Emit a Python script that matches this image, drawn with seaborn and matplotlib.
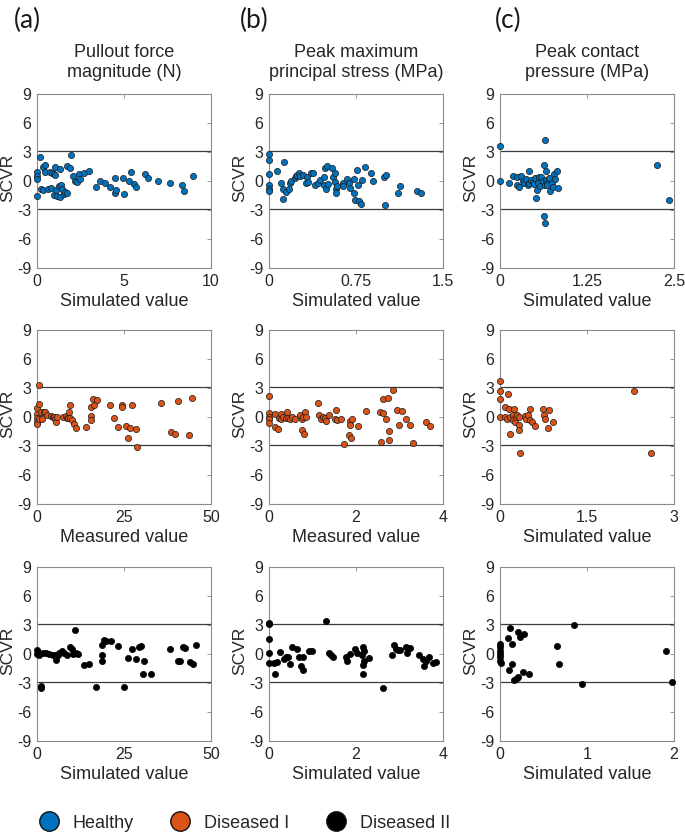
import matplotlib

matplotlib.use("Agg")
import matplotlib.pyplot as plt
from matplotlib.lines import Line2D
import seaborn as sns

sns.set_theme(style="white")
plt.rcParams["font.family"] = ["Liberation Sans", "DejaVu Sans"]

# ---- data (x = value, y = SCVR) ----
# row 1: healthy
pullout_healthy_x = [0, 0, 0, 0, 0.15, 0.23, 0.33, 0.34, 0.44, 0.48, 0.63, 0.73, 0.8, 0.86, 0.96, 1.03,
                     1.02, 0.96, 1.07, 1.15, 1.25, 1.3, 1.35, 1.4, 1.46, 1.53, 1.63, 1.72, 1.72, 1.88,
                     1.97, 2.05, 2.2, 2.3, 2.39, 2.49, 2.68, 2.97, 3.37, 3.6, 3.93, 4.2, 4.46, 4.5,
                     4.56, 4.94, 5.0, 5.27, 5.4, 5.55, 5.67, 6.2, 6.4, 6.93, 7.66, 8.35, 8.45, 8.97]
pullout_healthy_y = [0.94, 0.5, 0.17, -1.6, 2.5, -0.87, -0.94, 1.42, 1.67, 0.94, -0.8, 0.94, -0.7, 0.87, 0.7, 1.42,
                     0.6, -1.5, -0.94, -1.56, -0.5, 1.28, -1.67, -0.4, -0.87, -1.39, -1.15, -1.2, 1.56, 1.39,
                     2.67, 0.52, 0.03, -0.07, 0.7, 0.24, 0.87, 1.0, -0.6, -0.03, -0.2, -0.6, 0.35, -1.28,
                     -0.97, 0.3, -1.35, 0.03, 0.97, -0.3, -0.6, 0.73, 0.3, -0.03, -0.24, -0.4, -1.04, 0.52]

stress_healthy_x = [0, 0, 0, 0, 0, 0, 0.072, 0.1, 0.13, 0.12, 0.12, 0.15, 0.17, 0.18, 0.19, 0.22, 0.23,
                    0.24, 0.26, 0.27, 0.29, 0.32, 0.33, 0.34, 0.36, 0.38, 0.4, 0.42, 0.44, 0.47, 0.47,
                    0.48, 0.49, 0.5, 0.51, 0.54, 0.55, 0.57, 0.57, 0.58, 0.58, 0.59, 0.64, 0.64, 0.67,
                    0.69, 0.7, 0.73, 0.73, 0.74, 0.76, 0.77, 0.78, 0.79, 0.8, 0.83, 0.88, 0.9, 0.99,
                    1.01, 1.0, 1.11, 1.13, 1.28, 1.31]
stress_healthy_y = [2.78, 2.19, 0.7, -0.38, -0.87, -1.08, 1.0, -0.17, 1.94, -0.87, -1.84, -1.15, -0.87, -0.17, 0, 0.35, 0.52,
                    0.66, 0.8, 0.52, 0.6, -0.2, 0.45, -0.07, 0.8, 0.8, -0.45, -0.17, 0.07, 0.42, -0.45,
                    1.32, -0.8, 1.53, -0.28, 1.35, 0.42, 0.8, -0.1, -0.8, -1.22, -0.52, -0.24, -0.52, 0.17,
                    -0.24, -0.7, 0.17, -1.28, -2.0, 1.15, -0.45, -2.08, -2.43, 0.1, 1.42, 0.87, -0.03, 0.38,
                    0.6, -2.47, -1.25, -0.49, -1.0, -1.28]

contact_healthy_x = [0, 0, 0.135, 0.18, 0.24, 0.25, 0.28, 0.3, 0.33, 0.35, 0.38, 0.4, 0.41, 0.42, 0.44,
                     0.47, 0.49, 0.51, 0.52, 0.53, 0.54, 0.56, 0.57, 0.59, 0.62, 0.63, 0.63, 0.64, 0.65,
                     0.65, 0.66, 0.66, 0.68, 0.68, 0.7, 0.72, 0.74, 0.76, 0.77, 0.79, 0.82, 0.83, 2.26, 2.43]
contact_healthy_y = [3.58, 0.03, -0.17, 0.52, 0.42, -0.38, -0.6, 0.52, 0, -0.17, 0.24, -0.45, 1.0, -0.17, 0.1,
                     -0.07, -0.3, 0.3, -1.77, -0.94, -0.17, 0.45, -0.52, 0.45, 0.03, 1.7, -3.65, -0.38, 4.27,
                     -4.34, 0.1, 1.0, -0.17, -0.45, 0.35, -1.0, -0.24, -0.66, 0.73, 0.24, 1.0, -0.73, 1.7, -2.0]

# row 2: diseased I
pullout_d1_x = [0, 0, 0, 0, 0, 0.67, 0.6, 0.67, 1.15, 1.34, 1.9, 2.3, 2.9, 4.0, 4.5, 5.0, 5.2, 5.4, 5.75,
                7.5, 8.3, 8.6, 8.8, 9.1, 9.6, 9.6, 10.0, 10.5, 11.1, 14.1, 15.5, 15.5, 15.5, 16.3, 16.2,
                17.3, 20.9, 22.0, 23.2, 24.3, 24.5, 25.7, 26.2, 26.6, 27.4, 28.4, 28.7, 35.6, 38.5,
                39.7, 40.4, 43.7, 44.6]
pullout_d1_y = [0.97, 0.28, -0.14, -0.48, -0.69, 3.3, 1.38, -0.2, 0.48, -0.2, 0.48, 0.55, 0.24, 0.07, -0.03, 0, -0.2, -0.55, 0,
                -0.03, 0.07, -0.07, -0.07, 0.48, 1.24, -0.14, -0.28, -0.69, -1.17, -1.03, 1.0, 0.07, -0.28, 1.24, 1.9,
                1.72, 1.28, -0.14, -1.03, 1.28, 1.0, -0.97, -2.2, -1.1, 1.24, -1.24, -3.07, 1.45, -1.52,
                -1.76, 1.66, -1.86, 1.93]

stress_d1_x = [0, 0, 0, 0, 0, 0.14, 0.14, 0.2, 0.23, 0.28, 0.28, 0.32, 0.38, 0.41, 0.44, 0.49, 0.53, 0.59,
               0.72, 0.75, 0.75, 0.78, 0.8, 0.82, 0.86, 1.12, 1.15, 1.2, 1.24, 1.29, 1.32, 1.38, 1.52,
               1.55, 1.56, 1.66, 1.72, 1.87, 1.87, 1.85, 1.88, 1.9, 2.05, 2.22, 2.56, 2.57, 2.62, 2.63,
               2.7, 2.74, 2.77, 2.77, 2.84, 2.95, 2.99, 3.05, 3.16, 3.25, 3.31, 3.6, 3.71]
stress_d1_y = [2.17, 0.38, 0.03, -0.24, -0.66, 0.31, -1.07, -1.2, -0.07, 0.31, -0.2, 0, -0.14, 0.52, -0.1, -0.24, -0.03, -0.17,
               0.21, -0.24, -1.34, 0.03, -1.76, 0.52, -0.03, 1.48, 0.17, -0.24, 0.03, -0.14, -0.38, 0.21, -0.24,
               0.72, -0.34, -0.17, -2.76, -0.38, -0.79, -1.9, -2.17, -0.24, -0.93, 0.66, 0.52, -2.59, 0.45, 1.83,
               -0.24, 1.97, -1.48, -2.38, 2.79, 0.72, -0.86, 0.59, -0.17, -0.79, -2.66, -0.52, -0.93]

contact_d1_x = [0, 0, 0, 0, 0.085, 0.09, 0.14, 0.125, 0.15, 0.18, 0.18, 0.22, 0.23, 0.24, 0.26, 0.27, 0.3,
                0.32, 0.32, 0.33, 0.34, 0.43, 0.45, 0.49, 0.51, 0.52, 0.55, 0.61, 0.74, 0.76, 0.78, 0.82,
                0.85, 0.92, 2.31, 2.6]
contact_d1_y = [3.72, 2.72, 1.83, 0.03, 1.07, 0.03, 2.38, -0.17, 0.79, -0.03, -1.76, 0.17, -0.31, 0.79, -0.52, -0.03, 0.17,
                -0.86, -1.34, -0.03, -3.76, 0.1, -0.17, 0.24, 0.79, -0.31, -0.52, -0.93, 0.79, 0.17, -0.17, -1.14,
                0.72, -0.52, 2.66, -3.76]

# row 3: diseased II
pullout_d2_x = [0, 0, 0.2, 0.5, 1.1, 1.1, 1.6, 2.6, 3.5, 4.5, 5.2, 5.6, 6.0, 6.4, 7.1, 7.9, 8.5, 9.4, 10.0,
                10.3, 10.9, 11.3, 11.7, 13.6, 14.9, 17.0, 18.7, 18.7, 18.7, 19.3, 19.9, 21.2, 23.4, 25.1,
                26.1, 27.4, 28.4, 29.3, 29.9, 30.7, 30.5, 32.9, 38.3, 40.5, 41.0, 42.0, 42.4, 43.9, 44.8, 45.7]
pullout_d2_y = [0.44, 0, 0.2, -0.07, -3.33, -3.54, 0.1, 0.07, 0, -0.07, -0.14, -0.58, -0.07, 0.07, 0.27, 0.14, -0.07, 0.71, 0.51,
                0, 2.45, 0.07, 0, -1.09, -1.02, -3.4, 0.95, -0.14, -0.75, 1.5, 1.36, 1.36, 0.85, -3.4,
                -0.41, 0.48, -0.48, 0.68, 0.78, -0.68, -2.1, -2.1, 0.48, -0.68, -0.75, 0.68, 0.65, -0.82, -0.99, 0.95]

stress_d2_x = [0, 0, 0, 0, 0, 0.12, 0.14, 0.18, 0.26, 0.34, 0.38, 0.44, 0.49, 0.53, 0.64, 0.7, 0.73, 0.79,
               0.79, 0.93, 0.98, 1.3, 1.37, 1.42, 1.47, 1.76, 1.79, 1.86, 1.97, 2.03, 2.14, 2.15, 2.15,
               2.17, 2.18, 2.18, 2.29, 2.61, 2.82, 2.87, 2.92, 2.96, 3.01, 3.15, 3.18, 3.24, 3.44, 3.53,
               3.57, 3.6, 3.68, 3.76, 3.85]
stress_d2_y = [3.23, 3.06, 1.56, 0.07, -0.92, -0.88, -2.1, -0.82, 0.2, -0.54, -0.34, -0.34, -1.02, 0.75, 0.54, -0.27, -1.29, -1.7,
               -0.27, 0.34, 0.27, 3.4, 0.07, -0.14, -0.27, -0.27, -0.75, 0, 0.54, 0.14, -0.07, -1.16, -2.1,
               0.75, 0.27, -0.68, -0.41, -3.54, -0.07, 0.88, 0.54, 0.44, 0.37, 0.75, 0.07, 0.61, -0.07, -0.48,
               -1.22, -0.75, -0.27, -0.88, -0.82]

contact_d2_x = [0, 0, 0, 0, 0, 0, 0.01, 0.09, 0.1, 0.11, 0.14, 0.14, 0.16, 0.19, 0.21, 0.21, 0.23, 0.27,
                0.28, 0.33, 0.65, 0.68, 0.85, 0.94, 1.91, 1.98]
contact_d2_y = [1.02, 0.68, 0.34, 0, -0.34, -0.68, -0.92, 1.63, -1.63, 2.72, 1.02, -1.02, -2.69, -2.52, -2.38, 2.31, 1.77, -1.84,
                2.1, -2.04, 0.78, -1.02, 2.99, -3.06, 0.31, -2.89]

upper_limit = 3.1
lower_limit = -2.9

column_titles = ["Pullout force\nmagnitude (N)", "Peak maximum\nprincipal stress (MPa)", "Peak contact\npressure (MPa)"]
panel_letters = ["(a)", "(b)", "(c)"]
y_ticks = [-9, -6, -3, 0, 3, 6, 9]
x_ticks = [
    [[0, 5, 10], [0, 0.75, 1.5], [0, 1.25, 2.5]],
    [[0, 25, 50], [0, 2, 4], [0, 1.5, 3]],
    [[0, 25, 50], [0, 2, 4], [0, 1, 2]],
]
x_labels = [
    ["Simulated value", "Simulated value", "Simulated value"],
    ["Measured value", "Measured value", "Simulated value"],
    ["Simulated value", "Simulated value", "Simulated value"],
]
group_names = ["Healthy", "Diseased I", "Diseased II"]
group_colors = ["#0072BD", "#D95319", "#000000"]
group_edges = ["#1a1a1a", "#1a1a1a", "#000000"]

panels = [
    [(pullout_healthy_x, pullout_healthy_y), (stress_healthy_x, stress_healthy_y), (contact_healthy_x, contact_healthy_y)],
    [(pullout_d1_x, pullout_d1_y), (stress_d1_x, stress_d1_y), (contact_d1_x, contact_d1_y)],
    [(pullout_d2_x, pullout_d2_y), (stress_d2_x, stress_d2_y), (contact_d2_x, contact_d2_y)],
]

W, H = 685, 838
fig = plt.figure(figsize=(W / 100, H / 100), dpi=100)

col_left = [37, 269, 500]
row_top = [94, 330, 567]
size = 174
text_color = "#262626"


def fmt(v):
    return f"{v:g}"


for r in range(3):
    for c in range(3):
        ax = fig.add_axes([col_left[c] / W, 1 - (row_top[r] + size) / H, size / W, size / H])
        x, y = panels[r][c]
        ax.axhline(upper_limit, color="#3c3c3c", lw=0.9, zorder=1)
        ax.axhline(lower_limit, color="#3c3c3c", lw=0.9, zorder=1)
        sns.scatterplot(x=x, y=y, color=group_colors[r], edgecolor=group_edges[r], linewidth=0.5,
                        s=20, ax=ax, clip_on=False, zorder=3)
        ticks = x_ticks[r][c]
        ax.set_xlim(ticks[0], ticks[-1])
        ax.set_ylim(-9, 9)
        ax.set_xticks(ticks)
        ax.set_xticklabels([fmt(t) for t in ticks])
        ax.set_yticks(y_ticks)
        ax.set_yticklabels([fmt(t) for t in y_ticks])
        ax.tick_params(direction="in", length=3, width=0.6, color="#8a8a8a", top=True, right=True,
                       labelsize=11.5, labelcolor=text_color, pad=4)
        for sp in ax.spines.values():
            sp.set_color("#8a8a8a")
            sp.set_linewidth(0.8)
        ax.set_xlabel(x_labels[r][c], fontsize=13, color=text_color, labelpad=3)
        ax.set_ylabel("SCVR", fontsize=12.5, color=text_color)
        ax.yaxis.set_label_coords(-0.125, 0.52)
        if r == 0:
            ax.set_title(column_titles[c], fontsize=13, color=text_color, pad=12, linespacing=1.25)

letter_x = [14, 240, 495]
for c in range(3):
    fig.text(letter_x[c] / W, 1 - 20 / H, panel_letters[c], fontsize=19, family=["Lato", "DejaVu Sans"],
             color="#1a1a1a", va="center", ha="left")

handles = [Line2D([], [], marker="o", linestyle="none", markersize=14, markerfacecolor=col,
                  markeredgecolor="#111111", markeredgewidth=1.0) for col in group_colors]
fig.legend(handles, group_names, loc="center left", bbox_to_anchor=(38 / W, 1 - 823 / H), ncol=3,
           frameon=False, fontsize=13, handlelength=1.2, handletextpad=0.7, columnspacing=2.0,
           borderpad=0, borderaxespad=0, labelcolor=text_color)

fig.savefig("out.png", dpi=100)
plt.close(fig)
